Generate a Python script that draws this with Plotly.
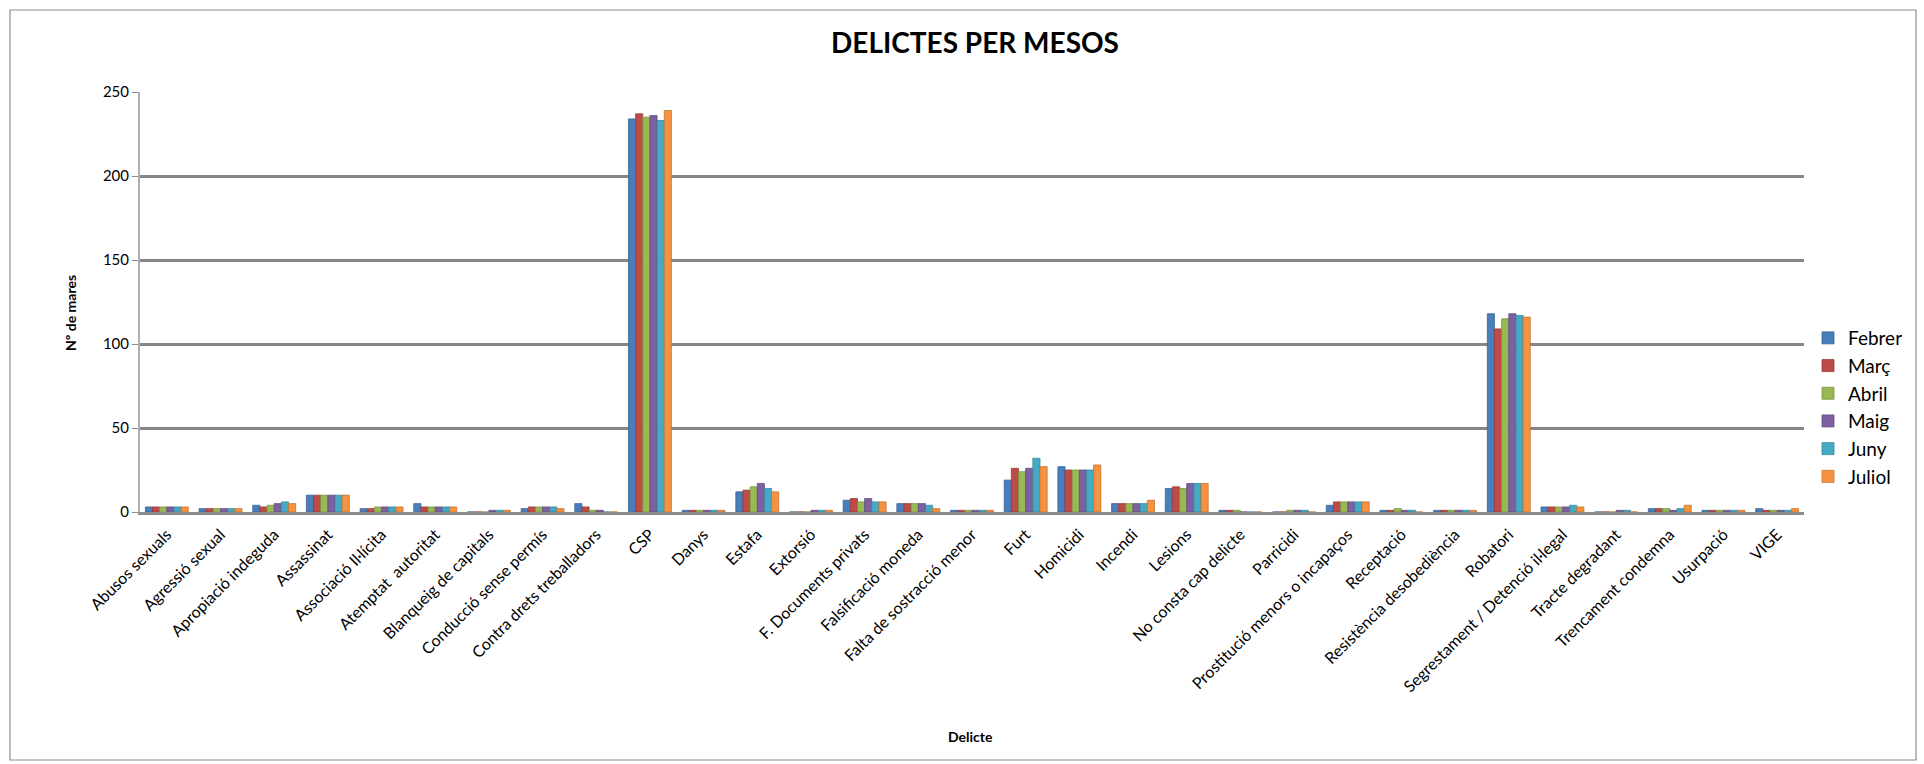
import plotly.graph_objects as go

categories = [
    "Abusos sexuals", "Agressió sexual", "Apropiació indeguda", "Assassinat",
    "Associació Il·lícita", "Atemptat  autoritat", "Blanqueig de capitals",
    "Conducció sense permís", "Contra drets treballadors", "CSP", "Danys",
    "Estafa", "Extorsió", "F. Documents privats", "Falsificació moneda",
    "Falta de sostracció menor", "Furt", "Homicidi", "Incendi", "Lesions",
    "No consta cap delicte", "Parricidi", "Prostitució menors o incapaços",
    "Receptació", "Resistència desobediència", "Robatori",
    "Segrestament / Detenció il·legal", "Tracte degradant",
    "Trencament condemna", "Usurpació", "VIGE",
]

febrer = [3, 2, 4, 10, 2, 5, 0, 2, 5, 234, 1, 12, 0, 7, 5, 1, 19, 27, 5, 14, 1, 0, 4, 1, 1, 118, 3, 0, 2, 1, 2]
marc   = [3, 2, 3, 10, 2, 3, 0, 3, 3, 237, 1, 13, 0, 8, 5, 1, 26, 25, 5, 15, 1, 0, 6, 1, 1, 109, 3, 0, 2, 1, 1]
abril  = [3, 2, 4, 10, 3, 3, 0, 3, 1, 235, 1, 15, 0, 6, 5, 1, 24, 25, 5, 14, 1, 1, 6, 2, 1, 115, 3, 0, 2, 1, 1]
maig   = [3, 2, 5, 10, 3, 3, 1, 3, 1, 236, 1, 17, 1, 8, 5, 1, 26, 25, 5, 17, 0, 1, 6, 1, 1, 118, 3, 1, 1, 1, 1]
juny   = [3, 2, 6, 10, 3, 3, 1, 3, 0, 233, 1, 14, 1, 6, 4, 1, 32, 25, 5, 17, 0, 1, 6, 1, 1, 117, 4, 1, 2, 1, 1]
juliol = [3, 2, 5, 10, 3, 3, 1, 2, 0, 239, 1, 12, 1, 6, 2, 1, 27, 28, 7, 17, 0, 0, 6, 0, 1, 116, 3, 0, 4, 1, 2]

series_names = ["Febrer", "Març", "Abril", "Maig", "Juny", "Juliol"]
series_values = [febrer, marc, abril, maig, juny, juliol]
series_colors = ["#4A7EBB", "#BE4B48", "#98B954", "#7D60A0", "#46AAC5", "#F69240"]
line_colors = ["#3A6496", "#973B39", "#7A9443", "#634C80", "#37889D", "#C47432"]

y_ticks = [0, 50, 100, 150, 200, 250]

FONT = "Lato, 'Open Sans', sans-serif"

fig = go.Figure()
for name, vals, col, lc in zip(series_names, series_values, series_colors, line_colors):
    fig.add_trace(go.Bar(
        name=name, x=categories, y=vals,
        marker=dict(color=col, line=dict(color=lc, width=0.8)),
    ))

W, H = 1924, 764
L, R, T, B = 140, 120, 92, 252
pw, ph = W - L - R, H - T - B

def px2paper_x(x):
    return (x - L) / pw

def px2paper_y(y):
    return (H - B - y) / ph

fig.update_layout(
    width=W, height=H,
    margin=dict(l=L, r=R, t=T, b=B, autoexpand=False),
    paper_bgcolor="white", plot_bgcolor="white",
    barmode="group", bargap=0.2, bargroupgap=0.0,
    font=dict(family=FONT, size=13, color="#000000"),
    title=dict(text="<b>DELICTES PER MESOS</b>", x=px2paper_x(975), xref="paper", xanchor="center",
               y=1 - 43 / H, yanchor="middle", yref="container",
               font=dict(family=FONT, size=28, color="#000000")),
    legend=dict(x=px2paper_x(1808), y=px2paper_y(319), xanchor="left", yanchor="top",
                font=dict(family=FONT, size=19), tracegroupgap=0, itemwidth=30,
                bgcolor="rgba(0,0,0,0)"),
    xaxis=dict(tickangle=-45, tickfont=dict(family=FONT, size=16),
               showline=True, linecolor="#8c8c8c", linewidth=3,
               ticks="", showgrid=False, ticklabelstandoff=4),
    yaxis=dict(range=[0, 250], tickvals=y_ticks, tickfont=dict(family=FONT, size=15),
               showgrid=True, gridcolor="#868686", gridwidth=2.5,
               showline=True, linecolor="#b0b0b0", linewidth=2,
               ticks="outside", ticklen=6, tickcolor="#8c8c8c", zeroline=False),
    shapes=[dict(type="rect", xref="paper", yref="paper",
                 x0=px2paper_x(10), x1=px2paper_x(1916),
                 y0=px2paper_y(760), y1=px2paper_y(10),
                 line=dict(color="#8c8c8c", width=1.2), fillcolor="rgba(0,0,0,0)", layer="below")],
    annotations=[
        dict(text="<b>Nº de mares</b>", x=px2paper_x(70), y=px2paper_y(313), xref="paper", yref="paper",
             textangle=-90, showarrow=False, font=dict(family=FONT, size=14), xanchor="center", yanchor="middle"),
        dict(text="<b>Delicte</b>", x=px2paper_x(970), y=px2paper_y(736), xref="paper", yref="paper",
             showarrow=False, font=dict(family=FONT, size=14), xanchor="center", yanchor="middle"),
    ],
)

fig.write_html("out.html")
